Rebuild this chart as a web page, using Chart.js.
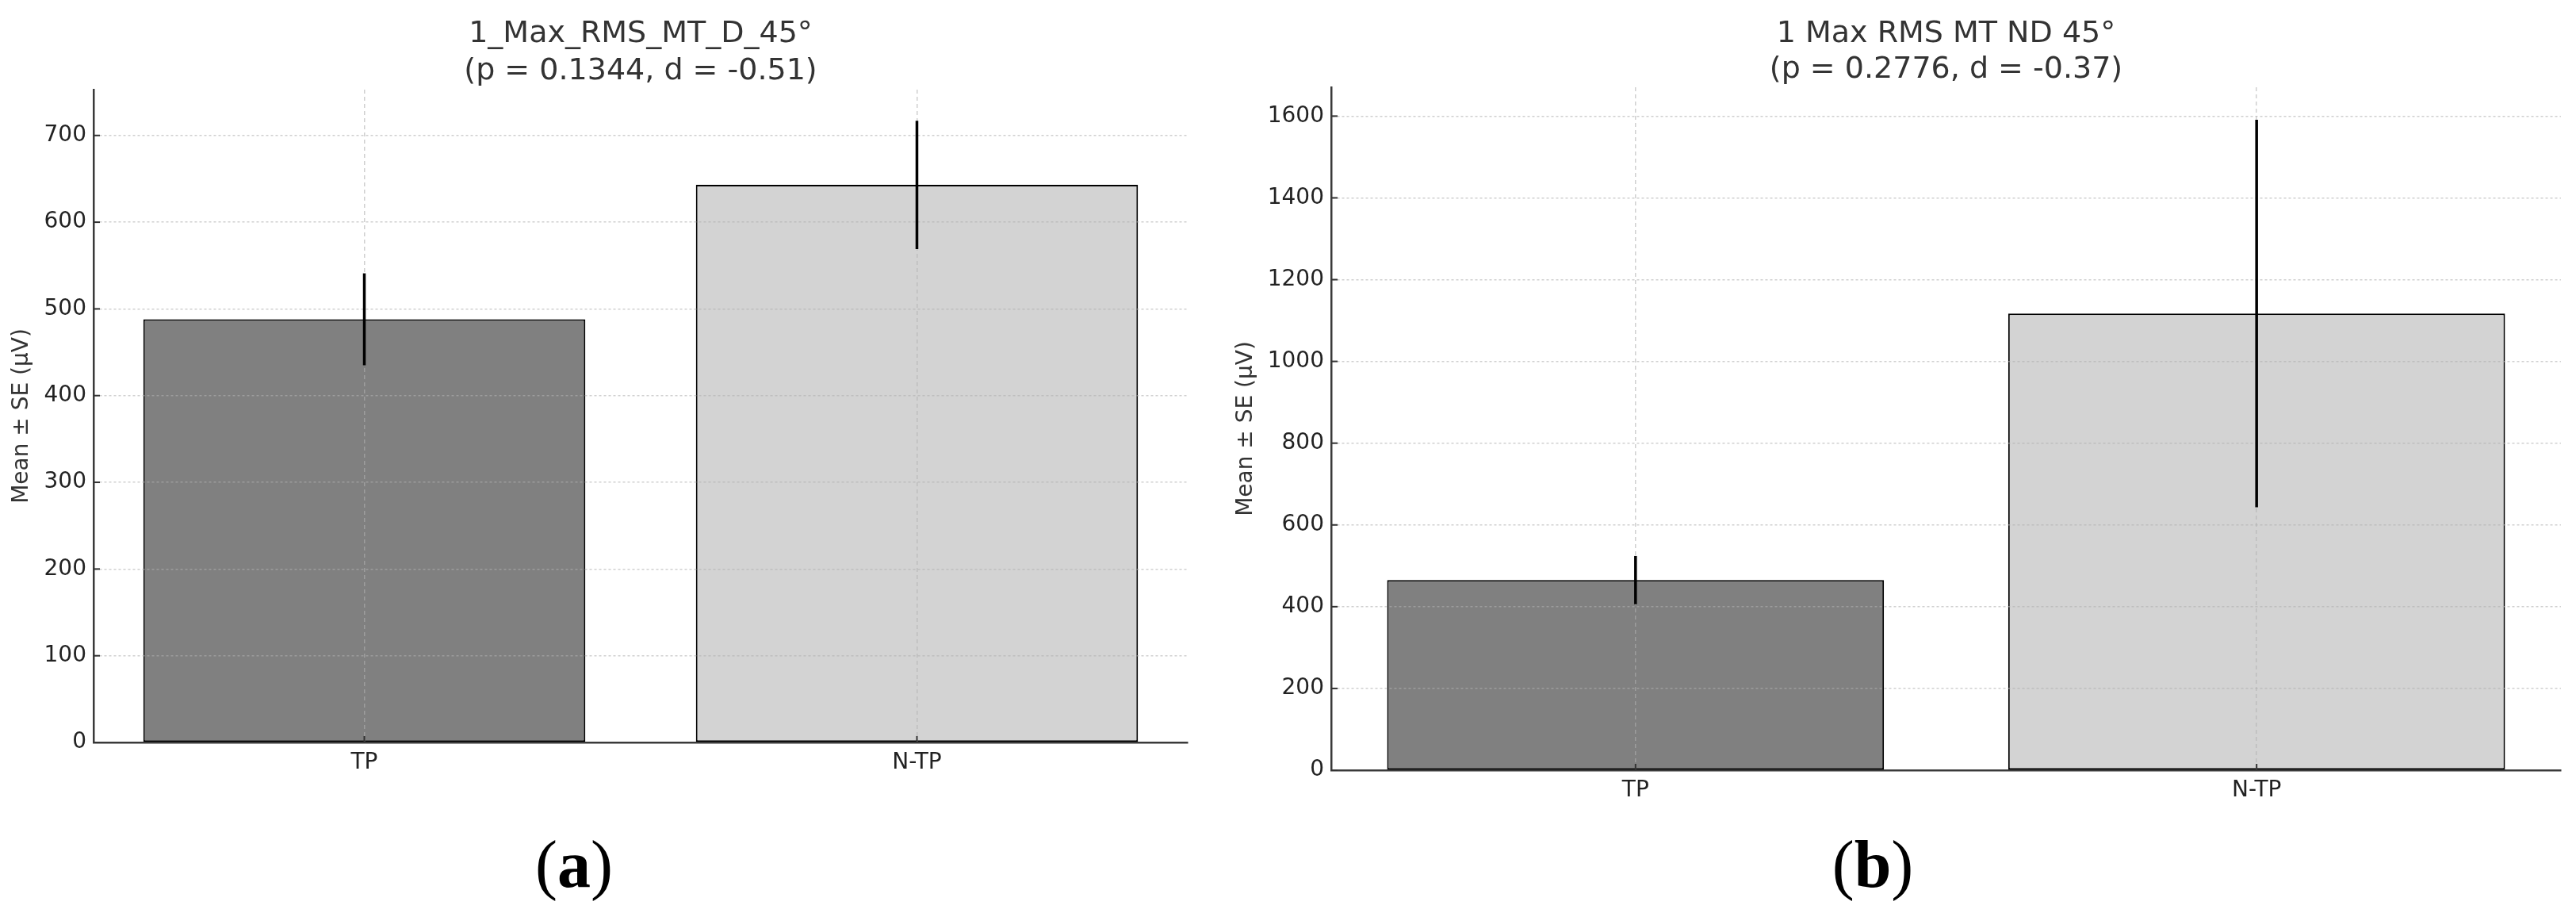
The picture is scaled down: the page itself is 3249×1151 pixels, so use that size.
<!DOCTYPE html>
<html>
<head>
<meta charset="utf-8">
<script src="https://cdn.jsdelivr.net/npm/chart.js@4.4.1/dist/chart.umd.min.js"></script>
<style>
  body { margin: 0; background: #fff; width: 3249px; height: 1151px; position: relative; overflow: hidden; }
  canvas { position: absolute; top: 0; }
  .panel { position: absolute; top: 1048px; width: 200px; margin-left: -100px; text-align: center;
           font-family: 'Liberation Serif', 'Times New Roman', serif; font-size: 84px; line-height: 84px; color: #000; }
</style>
</head>
<body>
<canvas id="chartA" width="1540" height="1040" style="left:0"></canvas>
<canvas id="chartB" width="1709" height="1040" style="left:1540px"></canvas>
<div class="panel" style="left:724px">(<b>a</b>)</div>
<div class="panel" style="left:2362px">(<b>b</b>)</div>
<script>
// groups shared by both panels
var groups = ['TP', 'N-TP'];
var barColors = ['#808080', '#d3d3d3'];

// panel (a)
var titleA = ['1_Max_RMS_MT_D_45°', '(p = 0.1344, d = -0.51)'];
var meanA = [488, 643];
var seA = [53, 74];
var ticksA = [0, 100, 200, 300, 400, 500, 600, 700];

// panel (b)
var titleB = ['1 Max RMS MT ND 45°', '(p = 0.2776, d = -0.37)'];
var meanB = [465, 1117];
var seB = [59, 474];
var ticksB = [0, 200, 400, 600, 800, 1000, 1200, 1400, 1600];

Chart.defaults.font.family = "'DejaVu Sans', sans-serif";

// title centred over the plot area (matplotlib style)
var titlePlugin = {
    id: 'twoLineTitle',
    afterDraw: function(chart, args, opts) {
        var ctx = chart.ctx, area = chart.chartArea;
        var cx = (area.left + area.right) / 2;
        ctx.save();
        ctx.font = '38px "DejaVu Sans"';
        ctx.fillStyle = '#333';
        ctx.textAlign = 'center';
        ctx.textBaseline = 'alphabetic';
        opts.lines.forEach(function(t, i) { ctx.fillText(t, cx, opts.baselines[i]); });
        ctx.restore();
    }
};

// inward tick marks + error bars, drawn on top of everything
var errorPlugin = {
    id: 'errorBars',
    afterDraw: function(chart, args, opts) {
        var ctx = chart.ctx, xs = chart.scales.x, ys = chart.scales.y, area = chart.chartArea;
        ctx.save();
        ctx.strokeStyle = '#333';
        ctx.lineWidth = 2;
        ys.ticks.forEach(function(t) {
            var py = ys.getPixelForValue(t.value);
            ctx.beginPath(); ctx.moveTo(area.left, py); ctx.lineTo(area.left + 8, py); ctx.stroke();
        });
        xs.ticks.forEach(function(t) {
            var px = xs.getPixelForValue(t.value);
            ctx.beginPath(); ctx.moveTo(px, area.bottom); ctx.lineTo(px, area.bottom - 8); ctx.stroke();
        });
        ctx.strokeStyle = '#000';
        ctx.lineWidth = 3.5;
        opts.means.forEach(function(m, i) {
            var px = xs.getPixelForValue(i);
            ctx.beginPath();
            ctx.moveTo(px, ys.getPixelForValue(m - opts.errors[i]));
            ctx.lineTo(px, ys.getPixelForValue(m + opts.errors[i]));
            ctx.stroke();
        });
        ctx.restore();
    }
};

function makeChart(id, title, means, errors, ticks, lay) {
    var top = Math.max.apply(null, means.map(function(m, i) { return m + errors[i]; })) * 1.05;
    var ctx = document.getElementById(id).getContext('2d');
    return new Chart(ctx, {
        type: 'bar',
        data: {
            datasets: [{
                data: means.map(function(m, i) { return { x: i, y: m }; }),
                backgroundColor: barColors,
                borderColor: '#000',
                borderWidth: 2,
                borderSkipped: false,
                categoryPercentage: 1,
                barPercentage: 0.8
            }]
        },
        options: {
            responsive: false,
            animation: false,
            devicePixelRatio: 1,
            layout: { padding: { top: lay.top, right: lay.right, left: 0, bottom: 0 } },
            plugins: {
                legend: { display: false },
                tooltip: { enabled: false },
                twoLineTitle: { lines: title, baselines: lay.baselines },
                errorBars: { means: means, errors: errors }
            },
            scales: {
                x: {
                    type: 'linear',
                    offset: false,
                    min: -0.49,
                    max: 1.49,
                    afterBuildTicks: function(s) { s.ticks = groups.map(function(g, i) { return { value: i }; }); },
                    afterFit: function(s) { s.height = lay.xHeight; },
                    ticks: { callback: function(v) { return groups[v]; }, font: { size: 28 }, color: '#222', padding: 9 },
                    grid: { offset: false, color: 'rgba(176,176,176,0.6)', lineWidth: 1.5, drawTicks: false, z: 1 },
                    border: { color: '#3a3a3a', width: 2.5, dash: [5, 4], z: 2 }
                },
                y: {
                    min: 0,
                    max: top,
                    afterBuildTicks: function(s) { s.ticks = ticks.map(function(v) { return { value: v }; }); },
                    afterFit: function(s) { s.width = lay.yWidth; },
                    ticks: { callback: function(v) { return String(v); }, font: { size: 28 }, color: '#222', padding: 9 },
                    grid: { color: 'rgba(176,176,176,0.6)', lineWidth: 1.5, drawTicks: false, z: 1 },
                    border: { color: '#3a3a3a', width: 2.5, dash: [3, 3], z: 2 },
                    title: { display: true, text: 'Mean ± SE (µV)', font: { size: 28 }, color: '#333', padding: { top: lay.titlePad, bottom: 0 } }
                }
            }
        },
        plugins: [titlePlugin, errorPlugin]
    });
}

makeChart('chartA', titleA, meanA, seA, ticksA,
    { top: 113, right: 42, xHeight: 104, yWidth: 118, titlePad: 11, baselines: [53, 100] });
makeChart('chartB', titleB, meanB, seB, ticksB,
    { top: 110, right: 19, xHeight: 69, yWidth: 139, titlePad: 15, baselines: [53, 98] });
</script>
</body>
</html>
